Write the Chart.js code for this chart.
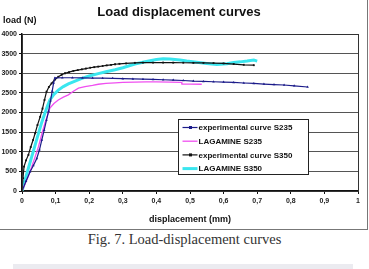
<!DOCTYPE html>
<html>
<head>
<meta charset="utf-8">
<script src="https://cdn.jsdelivr.net/npm/chart.js@4.4.0/dist/chart.umd.min.js"></script>
<style>
    body { margin: 0; background: #fff; width: 369px; height: 269px; overflow: hidden; position: relative; }
    #frame { position: absolute; left: 0; top: 0; width: 367px; height: 229px; border-right: 1px solid #777; border-bottom: 1px solid #777; }
    #caption { position: absolute; left: 0; top: 231px; width: 369px; text-align: center; font: 14.5px "Liberation Serif", "Times New Roman", serif; color: #333; }
    #bar { position: absolute; left: 13px; top: 264px; width: 340px; height: 5px; background: #ebebf0; }
</style>
</head>
<body>
<div id="frame"><canvas id="chart" width="367" height="229"></canvas></div>
<div id="caption">Fig. 7. Load-displacement curves</div>
<div id="bar"></div>
<script>
// displacement (mm) / load (N)
const expS235Disp = [0, 0.012, 0.024, 0.034, 0.044, 0.052, 0.059, 0.066, 0.073, 0.079, 0.085, 0.09, 0.094, 0.098, 0.12, 0.15, 0.18, 0.21, 0.24, 0.27, 0.30, 0.33, 0.36, 0.39, 0.42, 0.45, 0.48, 0.51, 0.54, 0.57, 0.60, 0.63, 0.66, 0.69, 0.72, 0.75, 0.78, 0.81, 0.85];
const expS235Load = [0, 250, 490, 650, 830, 1050, 1300, 1550, 1810, 2030, 2300, 2550, 2750, 2880, 2885, 2885, 2880, 2878, 2875, 2870, 2862, 2855, 2850, 2843, 2835, 2825, 2815, 2800, 2792, 2783, 2775, 2765, 2752, 2740, 2725, 2712, 2700, 2680, 2650];

const lagS235Disp = [0, 0.01, 0.02, 0.029, 0.039, 0.049, 0.058, 0.068, 0.076, 0.083, 0.095, 0.108, 0.123, 0.138, 0.153, 0.168, 0.1875, 0.21, 0.227, 0.25, 0.277, 0.3, 0.336, 0.37, 0.4, 0.44, 0.475, 0.476, 0.5, 0.535];
const lagS235Load = [0, 200, 400, 620, 870, 1130, 1420, 1720, 1930, 2110, 2230, 2320, 2390, 2450, 2540, 2620, 2660, 2690, 2720, 2740, 2755, 2765, 2775, 2780, 2780, 2775, 2770, 2725, 2725, 2720];

const expS350Disp = [0, 0.003, 0.006, 0.012, 0.019, 0.026, 0.033, 0.039, 0.046, 0.054, 0.061, 0.067, 0.073, 0.08, 0.088, 0.097, 0.108, 0.118, 0.128, 0.14, 0.153, 0.166, 0.178, 0.19, 0.203, 0.215, 0.227, 0.24, 0.252, 0.265, 0.277, 0.29, 0.31, 0.336, 0.36, 0.39, 0.42, 0.45, 0.48, 0.51, 0.54, 0.57, 0.6, 0.63, 0.66, 0.69];
const expS350Load = [0, 330, 620, 780, 920, 1120, 1300, 1470, 1680, 1890, 2100, 2320, 2530, 2650, 2740, 2830, 2910, 2960, 3000, 3030, 3060, 3080, 3100, 3120, 3140, 3155, 3170, 3185, 3200, 3215, 3230, 3240, 3250, 3265, 3270, 3272, 3272, 3270, 3268, 3265, 3262, 3258, 3250, 3235, 3215, 3205];

const lagS350Disp = [0, 0.009, 0.019, 0.029, 0.039, 0.049, 0.058, 0.068, 0.076, 0.083, 0.095, 0.108, 0.123, 0.138, 0.158, 0.178, 0.2, 0.227, 0.25, 0.277, 0.3, 0.336, 0.37, 0.4, 0.42, 0.44, 0.47, 0.49, 0.52, 0.55, 0.58, 0.61, 0.63, 0.65, 0.67, 0.69, 0.7];
const lagS350Load = [0, 280, 580, 875, 1170, 1470, 1730, 1980, 2170, 2320, 2460, 2570, 2660, 2730, 2800, 2870, 2930, 2990, 3040, 3090, 3140, 3235, 3300, 3350, 3370, 3365, 3340, 3310, 3280, 3250, 3225, 3240, 3275, 3290, 3310, 3335, 3310];

const seriesLabels = ['experimental curve S235', 'LAGAMINE S235', 'experimental curve S350', 'LAGAMINE S350'];
const yTicks = [0, 500, 1000, 1500, 2000, 2500, 3000, 3500, 4000];
const xTicks = [0, 0.1, 0.2, 0.3, 0.4, 0.5, 0.6, 0.7, 0.8, 0.9, 1];

const toPoints = (xs, ys) => xs.map((x, i) => ({ x: x, y: ys[i] }));

// legend drawn as a framed box inside the plot, like the spreadsheet original
const boxLegend = {
    id: 'boxLegend',
    afterDraw(chart) {
        const ctx = chart.ctx;
        const x0 = 178.5, y0 = 119.5, w = 130, h = 55;
        ctx.save();
        ctx.fillStyle = '#fff';
        ctx.fillRect(x0, y0, w, h);
        ctx.strokeStyle = '#222';
        ctx.lineWidth = 1;
        ctx.strokeRect(x0, y0, w, h);
        ctx.font = 'bold 8px "Liberation Sans", Arial, sans-serif';
        ctx.textBaseline = 'middle';
        chart.data.datasets.forEach((ds, i) => {
            const y = y0 + 8 + i * 13.7;
            ctx.strokeStyle = ds.borderColor;
            ctx.lineWidth = ds.borderWidth;
            ctx.beginPath();
            ctx.moveTo(x0 + 4, y);
            ctx.lineTo(x0 + 19, y);
            ctx.stroke();
            if (ds.pointRadius > 0) {
                ctx.fillStyle = ds.borderColor;
                ctx.fillRect(x0 + 10.5, y - 1.5, 3, 3);
            }
            ctx.fillStyle = '#111';
            ctx.fillText(ds.label, x0 + 20, y + 0.5);
        });
        ctx.restore();
    }
};

const extras = {
    id: 'extras',
    afterDraw(chart) {
        const ctx = chart.ctx;
        const a = chart.chartArea;
        ctx.save();
        ctx.strokeStyle = '#333';
        ctx.lineWidth = 1;
        ctx.strokeRect(Math.round(a.left) + 0.5, Math.round(a.top) + 0.5, Math.round(a.right - a.left), Math.round(a.bottom - a.top));
        ctx.fillStyle = '#111';
        ctx.font = 'bold 9px "Liberation Sans", Arial, sans-serif';
        ctx.textBaseline = 'middle';
        ctx.fillText('load (N)', 3, 21);
        ctx.restore();
    }
};

new Chart(document.getElementById('chart'), {
    type: 'line',
    data: {
        datasets: [
            {
                label: seriesLabels[0],
                data: toPoints(expS235Disp, expS235Load),
                borderColor: '#1c1c8a',
                borderWidth: 1.2,
                pointStyle: 'triangle',
                pointRadius: 1.5,
                pointBackgroundColor: '#1c1c8a',
                pointBorderWidth: 0
            },
            {
                label: seriesLabels[1],
                data: toPoints(lagS235Disp, lagS235Load),
                borderColor: '#f050f0',
                borderWidth: 1.3,
                pointRadius: 0
            },
            {
                label: seriesLabels[2],
                data: toPoints(expS350Disp, expS350Load),
                borderColor: '#111111',
                borderWidth: 1.2,
                pointStyle: 'rect',
                pointRadius: 1.3,
                pointBackgroundColor: '#111111',
                pointBorderWidth: 0
            },
            {
                label: seriesLabels[3],
                data: toPoints(lagS350Disp, lagS350Load),
                borderColor: '#3ae6ef',
                borderWidth: 3,
                pointRadius: 0
            }
        ]
    },
    options: {
        responsive: false,
        animation: false,
        events: [],
        layout: { padding: { left: 0, right: 9, top: 0, bottom: 0 } },
        elements: { line: { tension: 0 } },
        scales: {
            x: {
                type: 'linear',
                min: 0,
                max: 1,
                afterBuildTicks: (axis) => { axis.ticks = xTicks.map(v => ({ value: v })); },
                afterFit: (axis) => { axis.height = 38; },
                grid: { drawOnChartArea: false, drawTicks: true, tickLength: 3, color: '#111' },
                border: { color: '#111', width: 1.5 },
                ticks: {
                    padding: 3,
                    color: '#222',
                    font: { family: '"Liberation Sans", Arial, sans-serif', size: 7, weight: 'bold' },
                    callback: (v) => String(Math.round(v * 10) / 10).replace('.', ',')
                },
                title: {
                    display: true,
                    text: 'displacement (mm)',
                    color: '#111',
                    font: { family: '"Liberation Sans", Arial, sans-serif', size: 9, weight: 'bold' },
                    padding: { top: 3, bottom: 4 }
                }
            },
            y: {
                min: 0,
                max: 4000,
                afterBuildTicks: (axis) => { axis.ticks = yTicks.map(v => ({ value: v })); },
                afterFit: (axis) => { axis.width = 22; },
                grid: {
                    color: '#555',
                    borderDash: [2, 1],
                    tickBorderDash: [],
                    tickColor: '#111',
                    tickLength: 3,
                    lineWidth: 1
                },
                border: { color: '#111', width: 1.5 },
                ticks: {
                    padding: 2,
                    color: '#222',
                    font: { family: '"Liberation Sans", Arial, sans-serif', size: 7, weight: 'bold' },
                    callback: (v) => String(v)
                }
            }
        },
        plugins: {
            legend: { display: false },
            tooltip: { enabled: false },
            title: {
                display: true,
                text: 'Load displacement curves',
                color: '#111',
                font: { family: '"Liberation Sans", Arial, sans-serif', size: 13, weight: 'bold' },
                padding: { top: 5, bottom: 13.4 }
            }
        }
    },
    plugins: [extras, boxLegend]
});
</script>
</body>
</html>
